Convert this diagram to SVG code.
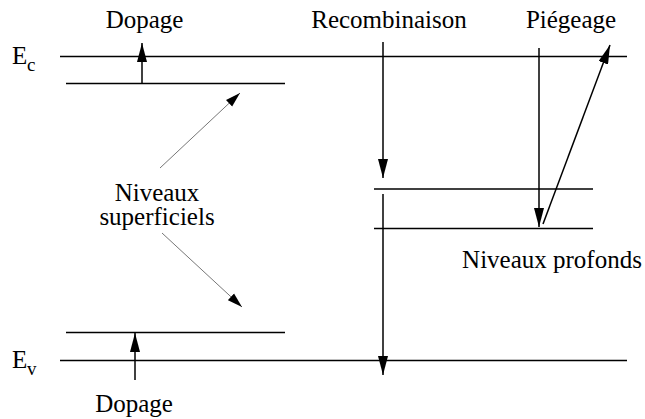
<svg xmlns="http://www.w3.org/2000/svg" width="645" height="419" viewBox="0 0 645 419">
<style>
text{font-family:'Liberation Serif','DejaVu Serif',serif;fill:#000}
.t{font-size:25px}
.s{font-size:19px}
.lv{stroke:#000;stroke-width:1.5;fill:none}
.ar{stroke:#000;stroke-width:1.5;fill:none;marker-end:url(#ah)}
.gr{stroke:#777;stroke-width:1;fill:none;marker-end:url(#ahs)}
</style>
<defs>
<marker id="ah" markerUnits="userSpaceOnUse" markerWidth="20" markerHeight="10" refX="19" refY="5" orient="auto" viewBox="0 0 20 10">
<path d="M0,0 L19,5 L0,10 z" fill="#000"/>
</marker>
<marker id="ahs" markerUnits="userSpaceOnUse" markerWidth="16" markerHeight="10" refX="15" refY="4.5" orient="auto" viewBox="0 0 16 9">
<path d="M0,0 L15,4.5 L0,9 z" fill="#000"/>
</marker>
</defs>
<g id="levels">
<g id="Ec"><line class="lv" x1="60" y1="56.5" x2="627" y2="56.5"/><text class="t" x="12" y="64" font-family="Liberation Serif, serif">E</text><text class="s" x="27" y="71" font-family="Liberation Serif, serif">c</text></g>
<g id="Ev"><line class="lv" x1="60" y1="360.5" x2="627" y2="360.5"/><text class="t" x="12" y="368" font-family="Liberation Serif, serif">E</text><text class="s" x="27" y="375" font-family="Liberation Serif, serif">v</text></g>
<g id="shallow-donor"><line class="lv" x1="66" y1="83.5" x2="285" y2="83.5"/></g>
<g id="shallow-acceptor"><line class="lv" x1="66" y1="332.5" x2="285" y2="332.5"/></g>
<g id="deep-1"><line class="lv" x1="374" y1="189" x2="593" y2="189"/></g>
<g id="deep-2"><line class="lv" x1="374" y1="228.5" x2="593" y2="228.5"/></g>
</g>
<g id="labels">
<g id="dopage-top"><text class="t" x="144.5" y="28" text-anchor="middle" font-family="Liberation Serif, serif">Dopage</text></g>
<g id="recombinaison"><text class="t" x="389" y="28" text-anchor="middle" font-family="Liberation Serif, serif">Recombinaison</text></g>
<g id="piegeage"><text class="t" x="571" y="28" text-anchor="middle" font-family="Liberation Serif, serif">Piégeage</text></g>
<g id="superficiels"><text class="t" x="157" y="201" text-anchor="middle" font-family="Liberation Serif, serif">Niveaux</text><text class="t" x="157" y="225" text-anchor="middle" font-family="Liberation Serif, serif">superficiels</text></g>
<g id="profonds"><text class="t" x="552" y="268" text-anchor="middle" font-family="Liberation Serif, serif">Niveaux profonds</text></g>
<g id="dopage-bottom"><text class="t" x="134" y="412" text-anchor="middle" font-family="Liberation Serif, serif">Dopage</text></g>
</g>
<g id="connectors">
<line class="ar" x1="142" y1="83" x2="142" y2="43"/>
<line class="ar" x1="135" y1="380" x2="135" y2="333"/>
<line class="ar" x1="383" y1="42" x2="383" y2="178"/>
<line class="ar" x1="383" y1="194" x2="383" y2="375"/>
<line class="ar" x1="539" y1="48" x2="539" y2="227"/>
<line class="ar" x1="543" y1="224" x2="610" y2="45"/>
<line class="gr" x1="160" y1="168" x2="240" y2="93"/>
<line class="gr" x1="162" y1="233" x2="242" y2="307"/>
</g>
</svg>
